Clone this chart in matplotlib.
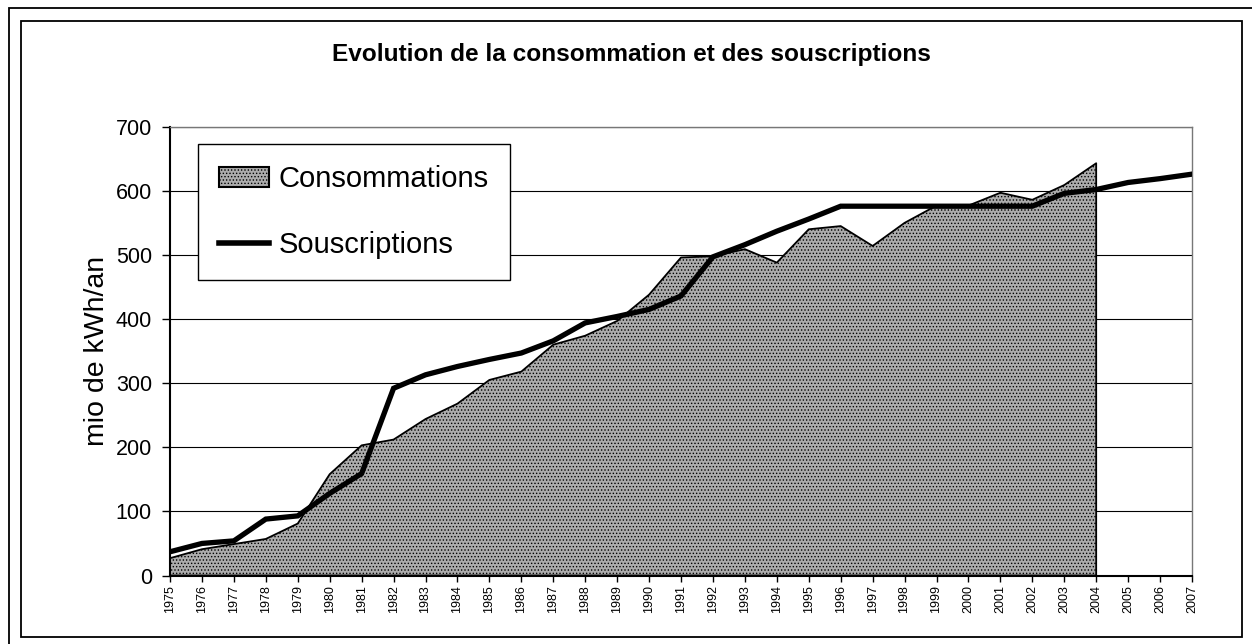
import matplotlib
matplotlib.use("Agg")
import matplotlib.pyplot as plt
from matplotlib.patches import Rectangle, Patch
from matplotlib.lines import Line2D

plt.rcParams['font.family'] = ['Liberation Sans', 'DejaVu Sans']
plt.rcParams['hatch.color'] = '#555555'
plt.rcParams['hatch.linewidth'] = 0.6

years = list(range(1975, 2008))
cons_years = list(range(1975, 2005))
consommations = [27, 41, 49, 57, 81, 158, 203, 212, 244, 268, 305, 318, 360, 374, 397,
                 438, 496, 498, 509, 488, 540, 545, 514, 550, 577, 577, 597, 586, 609, 643]
souscriptions = [37, 50, 54, 88, 93, 128, 159, 292, 313, 326, 337, 347, 366, 394, 404,
                 415, 436, 497, 516, 537, 556, 576, 576, 576, 576, 576, 576, 576, 596,
                 602, 613, 619, 626]
yticks = [0, 100, 200, 300, 400, 500, 600, 700]

W, H = 1252, 644
fig = plt.figure(figsize=(W / 100, H / 100), dpi=100)
fig.patch.set_facecolor('white')

ax_l, ax_r, ax_t, ax_b = 170, 1192, 126.7, 575.5
ax = fig.add_axes([ax_l / W, 1 - ax_b / H, (ax_r - ax_l) / W, (ax_b - ax_t) / H])

fill_face = '#acacac'
ax.fill_between(cons_years, 0, consommations, facecolor=fill_face, edgecolor='black',
                linewidth=1.3, hatch='.....', zorder=2)
ax.plot(years, souscriptions, color='black', linewidth=3.8, solid_joinstyle='miter', zorder=3)

ax.set_xlim(1975, 2007)
ax.set_ylim(0, 700)
ax.set_yticks(yticks)
ax.set_yticklabels([str(v) for v in yticks], fontsize=15.5)
ax.set_xticks(years)
ax.set_xticklabels([str(y) for y in years], rotation=90, fontsize=9)
ax.yaxis.grid(True, color='black', linewidth=0.8)
ax.set_axisbelow(True)
ax.tick_params(axis='y', direction='out', length=6, width=1, pad=7)
ax.tick_params(axis='x', direction='out', length=4, width=1, pad=3)
for s in ['left', 'bottom']:
    ax.spines[s].set_linewidth(1.5)
    ax.spines[s].set_color('black')
for s in ['top', 'right']:
    ax.spines[s].set_linewidth(1.0)
    ax.spines[s].set_color('#777777')

ax.set_ylabel('mio de kWh/an', fontsize=20.5, labelpad=4)

fig.text(631 / W, 1 - 54 / H, 'Evolution de la consommation et des souscriptions',
         ha='center', va='center', fontsize=17.6, fontweight='bold')

handles = [Patch(facecolor=fill_face, edgecolor='black', linewidth=1.5, hatch='.....'),
           Line2D([0], [0], color='black', linewidth=4)]
leg = ax.legend(handles, ['Consommations', 'Souscriptions'],
                loc='upper left', bbox_to_anchor=((198 - ax_l) / (ax_r - ax_l), (ax_b - 144) / (ax_b - ax_t)),
                borderaxespad=0, fontsize=21, frameon=True, fancybox=False, framealpha=1,
                edgecolor='black', borderpad=0.72, labelspacing=1.3, handlelength=1.7,
                handletextpad=0.35, handleheight=0.7)
leg.get_frame().set_linewidth(1.0)

# outer frames
fig.add_artist(Rectangle((9 / W, -0.05), 1.1, 1 - 8 / H + 0.05, transform=fig.transFigure,
                         fill=False, edgecolor='black', linewidth=1.3))
fig.add_artist(Rectangle((21 / W, 1 - 637 / H), (1242 - 21) / W, (637 - 21) / H,
                         transform=fig.transFigure, fill=False, edgecolor='black', linewidth=1.3))

fig.savefig('out.png', dpi=100)
